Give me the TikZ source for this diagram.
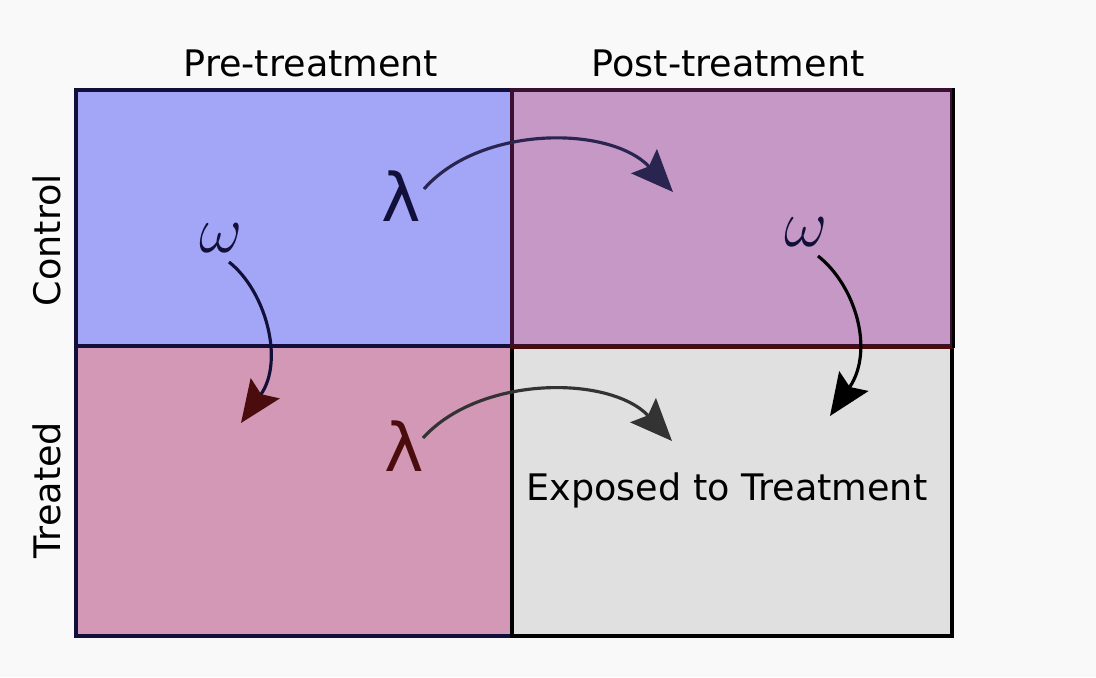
\RequirePackage{fix-cm}
\documentclass[tikz,border=0pt]{standalone}
\usepackage{fontspec}
\setmainfont{DejaVu Sans}
\usetikzlibrary{arrows.meta, positioning}
\definecolor{pagebg}{HTML}{F9F9F9}
\definecolor{ctrlpre}{HTML}{A3A6F7}
\definecolor{ctrlpost}{HTML}{C598C5}
\definecolor{trtpre}{HTML}{D398B5}
\definecolor{trtpost}{HTML}{E0E0E0}
\definecolor{navy}{HTML}{12103A}
\definecolor{maroon}{HTML}{4A0C0C}
\definecolor{plum}{HTML}{3A1030}
\definecolor{arrnavy}{HTML}{2A2550}
\definecolor{arrgray}{HTML}{333333}

\begin{document}
\begin{tikzpicture}[
  x=0.02cm, y=-0.02cm,
  cell/.style={draw, line width=2pt, inner sep=0pt},
  head/.style={font=\fontsize{20.8}{24}\selectfont},
  sym/.style={font=\fontsize{38}{42}\selectfont, inner sep=1pt},
  arr/.style={-{Stealth[length=24pt, width=20pt, inset=4pt]}, line width=1.8pt},
]

% page
\fill[pagebg] (0,0) rectangle (1096,677);
\useasboundingbox (0,0) rectangle (1096,677);

% Cells
\node[cell, fill=trtpre, draw=navy, minimum width=8.72cm, minimum height=5.8cm] (tpre) at (294,491) {};
\node[cell, fill=trtpost, draw=black, minimum width=8.8cm, minimum height=5.8cm] (tpost) at (732,491) {};
\node[cell, fill=ctrlpre, draw=navy, minimum width=8.72cm, minimum height=5.12cm] (cpre) at (294,218) {};
\node[cell, fill=ctrlpost, draw=plum, minimum width=8.8cm, minimum height=5.12cm] (cpost) at (732,218) {};
\draw[maroon, line width=2pt] (cpost.south west) -- (cpost.south east);
\draw[black, line width=2pt] (cpost.north east) -- (cpost.south east);

% Headers
\node[head] (pre) at (311,63) {Pre-treatment};
\node[head] (post) at (728,63) {Post-treatment};
\node[head, rotate=90] (control) at (47,240) {Control};
\node[head, rotate=90] (treated) at (47,490) {Treated};
\node[head] (exposed) at (727,490) {Exposed to Treatment};

% Symbols
\node[sym, text=navy] (lamtop) at (401,196) {λ};
\node[sym, text=maroon] (lambot) at (404,446) {λ};
\node[sym, text=navy] (omleft) at (221,238) {$\omega$};
\node[sym, text=navy] (omright) at (806,232) {$\omega$};

% Arrow ends
\coordinate (lamtopstart) at (424,189);
\coordinate (lamtopend) at (673,192);
\coordinate (lambotstart) at (423,438);
\coordinate (lambotend) at (672,441);
\coordinate (omleftstart) at (229,262);
\coordinate (omleftend) at (241,423);
\coordinate (omrightstart) at (818,256);
\coordinate (omrightend) at (830,416);

% Arrows
\draw[arr, arrnavy] (lamtopstart) .. controls (480,125) and (610,125) .. (lamtopend);
\draw[arr, arrgray] (lambotstart) .. controls (480,375) and (610,375) .. (lambotend);
\draw[arr, navy, -{Stealth[length=24pt, width=20pt, inset=4pt, color=maroon]}] (omleftstart) .. controls (265,290) and (285,360) .. (omleftend);
\draw[arr, black] (omrightstart) .. controls (855,285) and (875,350) .. (omrightend);

\end{tikzpicture}
\end{document}
